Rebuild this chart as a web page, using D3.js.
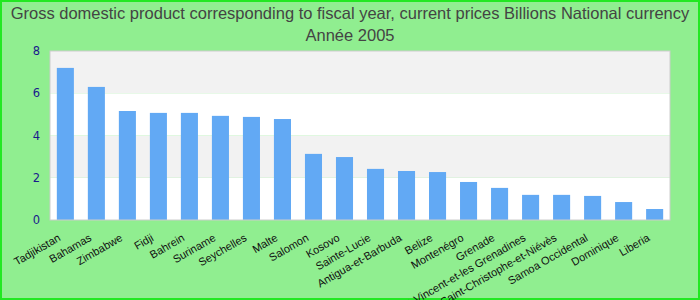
<!DOCTYPE html>
<html>
<head>
<meta charset="utf-8">
<script src="https://cdn.jsdelivr.net/npm/d3@7"></script>
<style>
  html, body { margin: 0; padding: 0; background: #90ee90; }
  svg { display: block; }
</style>
</head>
<body>
<svg id="chart"></svg>
<script>
// GDP for fiscal year, current prices, billions of national currency, 2005
const countries = [
    'Tadjikistan', 'Bahamas', 'Zimbabwe', 'Fidji', 'Bahrein', 'Suriname',
    'Seychelles', 'Malte', 'Salomon', 'Kosovo', 'Sainte-Lucie',
    'Antigua-et-Barbuda', 'Belize', 'Montenégro', 'Grenade',
    'Saint-Vincent-et-les Grenadines', 'Saint-Christophe-et-Niévès',
    'Samoa Occidental', 'Dominique', 'Liberia'
];
const gdpValues = [
    7.2, 6.3, 5.16, 5.07, 5.07, 4.93, 4.88, 4.78, 3.13, 2.98, 2.42,
    2.32, 2.27, 1.8, 1.52, 1.19, 1.19, 1.14, 0.85, 0.52
];
const yTicks = [0, 2, 4, 6, 8];
const titleLines = [
    'Gross domestic product corresponding to fiscal year, current prices Billions National currency',
    'Année 2005'
];

const width = 700, height = 300;
const margin = { top: 51, right: 30, bottom: 80, left: 50 };
const innerWidth = width - margin.left - margin.right;
const innerHeight = height - margin.top - margin.bottom;

const svg = d3.select('#chart')
    .attr('width', width)
    .attr('height', height);

// outer frame
svg.append('rect')
    .attr('x', 1).attr('y', 1)
    .attr('width', width - 2).attr('height', height - 2)
    .attr('fill', '#90ee90')
    .attr('stroke', '#22e822')
    .attr('stroke-width', 2);

// title
svg.append('g').selectAll('text')
    .data(titleLines)
    .enter()
    .append('text')
    .attr('x', width / 2)
    .attr('y', (d, i) => 19 + i * 22)
    .attr('text-anchor', 'middle')
    .attr('fill', '#444')
    .attr('font-family', '"Liberation Sans", Arial, sans-serif')
    .attr('font-size', '16.5px')
    .text(d => d);

const g = svg.append('g')
    .attr('transform', `translate(${margin.left}, ${margin.top})`);

const x = d3.scaleBand()
    .domain(countries)
    .range([0, innerWidth])
    .paddingInner(0.45)
    .paddingOuter(0.22);

const y = d3.scaleLinear()
    .domain([0, 8])
    .range([innerHeight, 0]);

// alternating grid bands
const bands = d3.pairs(yTicks);
g.append('g').selectAll('rect')
    .data(bands)
    .enter()
    .append('rect')
    .attr('x', 0)
    .attr('y', d => y(d[1]))
    .attr('width', innerWidth)
    .attr('height', d => y(d[0]) - y(d[1]))
    .attr('fill', (d, i) => i % 2 === 0 ? '#ffffff' : '#f2f2f2');

// bars
g.append('g').selectAll('rect')
    .data(gdpValues)
    .enter()
    .append('rect')
    .attr('x', (d, i) => x(countries[i]))
    .attr('y', d => y(d))
    .attr('width', x.bandwidth())
    .attr('height', d => innerHeight - y(d))
    .attr('fill', '#62a9f4');

// plot frame
g.append('rect')
    .attr('x', 0).attr('y', 0)
    .attr('width', innerWidth).attr('height', innerHeight)
    .attr('fill', 'none')
    .attr('stroke', '#cccccc')
    .attr('stroke-width', 1);

// y axis
const yAxis = g.append('g')
    .call(d3.axisLeft(y).tickValues(yTicks).tickSize(0).tickPadding(10));
yAxis.select('.domain').remove();
yAxis.selectAll('text')
    .attr('fill', '#1a1a8c')
    .attr('font-family', '"DejaVu Sans", Verdana, sans-serif')
    .attr('font-size', '11.5px');

// x axis labels, rotated
const xAxis = g.append('g')
    .attr('transform', `translate(0, ${innerHeight})`)
    .call(d3.axisBottom(x).tickSize(0).tickPadding(0));
xAxis.select('.domain').remove();
xAxis.selectAll('text')
    .attr('fill', '#111')
    .attr('font-family', '"Liberation Sans", Arial, sans-serif')
    .attr('font-size', '11px')
    .attr('text-anchor', 'end')
    .attr('dy', null)
    .attr('y', 0)
    .attr('transform', 'translate(-4, 20) rotate(-30)');
</script>
</body>
</html>
